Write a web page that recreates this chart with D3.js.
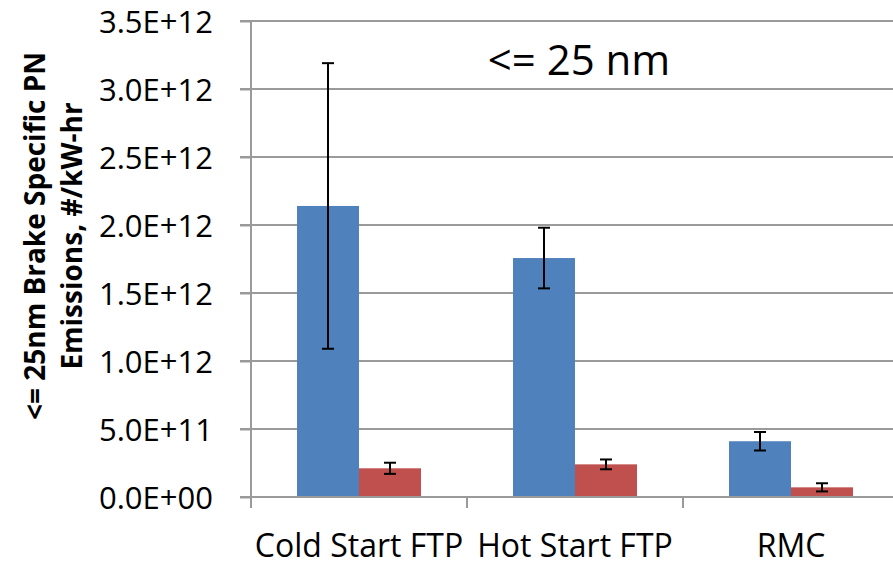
<!DOCTYPE html>
<html>
<head>
<meta charset="utf-8">
<script src="https://cdn.jsdelivr.net/npm/d3@7"></script>
<style>
  body { margin: 0; background: #fff; }
  text { font-family: "Open Sans", sans-serif; fill: #000; }
</style>
</head>
<body>
<div id="chart"></div>
<script>
const categories = ["Cold Start FTP", "Hot Start FTP", "RMC"];
const seriesNames = ["A", "B"];
const seriesA = [2.14e12, 1.757e12, 0.41e12];
const seriesAErr = [1.05e12, 0.223e12, 0.068e12];
const seriesB = [0.211e12, 0.24e12, 0.071e12];
const seriesBErr = [0.041e12, 0.036e12, 0.03e12];
const yTicks = [0, 5e11, 1e12, 1.5e12, 2e12, 2.5e12, 3e12, 3.5e12];
const colors = ["#4F81BD", "#C0504D"];

const width = 893, height = 565;
const plot = { left: 251, right: 899, top: 21, bottom: 497 };

const rows = categories.map((c, i) => ({
    cat: c,
    bars: [
        { s: seriesNames[0], v: seriesA[i], e: seriesAErr[i] },
        { s: seriesNames[1], v: seriesB[i], e: seriesBErr[i] }
    ]
}));

const svg = d3.select("#chart").append("svg")
    .attr("width", width)
    .attr("height", height);

const x0 = d3.scaleBand().domain(categories).range([plot.left, plot.right]).padding(0);
const x1 = d3.scaleBand().domain(seriesNames).range([0, x0.bandwidth()])
    .paddingInner(0).paddingOuter(0.742);
const y = d3.scaleLinear().domain([0, 3.5e12]).range([plot.bottom, plot.top]);

function fmt(v) {
    const s = v.toExponential(1).toUpperCase();
    const [m, e] = s.split("E");
    return m + "E" + e[0] + e.slice(1).padStart(2, "0");
}

// gridlines
svg.append("g")
    .selectAll("line")
    .data(yTicks.filter(d => d > 0))
    .join("line")
    .attr("x1", plot.left - 11)
    .attr("x2", width)
    .attr("y1", d => y(d))
    .attr("y2", d => y(d))
    .attr("stroke", "#9a9a9a")
    .attr("stroke-width", 2);

// y axis
const yAxis = svg.append("g")
    .attr("transform", `translate(${plot.left},0)`)
    .call(d3.axisLeft(y).tickValues(yTicks).tickFormat(fmt).tickSize(11).tickPadding(27));
yAxis.select(".domain").attr("stroke", "#9a9a9a").attr("stroke-width", 2)
    .attr("d", `M0,${plot.top}V${plot.bottom}`);
yAxis.selectAll(".tick line").attr("stroke", "#9a9a9a").attr("stroke-width", 2);
yAxis.selectAll(".tick text")
    .style("font-size", "31px")
    .attr("dy", "0.36em");

// bars
const groups = svg.append("g")
    .selectAll("g")
    .data(rows)
    .join("g")
    .attr("transform", d => `translate(${x0(d.cat)},0)`);

groups.selectAll("rect")
    .data(d => d.bars)
    .join("rect")
    .attr("x", d => x1(d.s))
    .attr("width", x1.bandwidth())
    .attr("y", d => y(d.v))
    .attr("height", d => y(0) - y(d.v))
    .attr("fill", (d, i) => colors[i]);

// error bars
const err = groups.selectAll("g.err")
    .data(d => d.bars)
    .join("g")
    .attr("class", "err")
    .attr("transform", d => `translate(${x1(d.s) + x1.bandwidth() / 2},0)`)
    .attr("stroke", "#000")
    .attr("stroke-width", 2);
err.append("line")
    .attr("y1", d => y(d.v - d.e)).attr("y2", d => y(d.v + d.e));
err.append("line")
    .attr("x1", -6).attr("x2", 6)
    .attr("y1", d => y(d.v + d.e)).attr("y2", d => y(d.v + d.e));
err.append("line")
    .attr("x1", -6).attr("x2", 6)
    .attr("y1", d => y(d.v - d.e)).attr("y2", d => y(d.v - d.e));

// x axis
const xAxis = svg.append("g")
    .attr("transform", `translate(0,${plot.bottom})`)
    .call(d3.axisBottom(x0).tickSize(0).tickPadding(37));
xAxis.select(".domain").attr("stroke", "#9a9a9a").attr("stroke-width", 2)
    .attr("d", `M${plot.left - 11},0H${width}`);
xAxis.selectAll(".tick text").style("font-size", "32px");

// category boundary ticks
svg.append("g")
    .selectAll("line")
    .data(categories)
    .join("line")
    .attr("x1", d => x0(d))
    .attr("x2", d => x0(d))
    .attr("y1", plot.bottom)
    .attr("y2", plot.bottom + 11)
    .attr("stroke", "#9a9a9a")
    .attr("stroke-width", 2);

// title in plot
svg.append("text")
    .attr("x", 579)
    .attr("y", 75)
    .attr("text-anchor", "middle")
    .style("font-size", "42px")
    .text("<= 25 nm");

// y title
const yt = svg.append("text")
    .attr("transform", "translate(0,236) rotate(-90)")
    .attr("text-anchor", "middle")
    .style("font-size", "28px")
    .style("font-weight", "bold");
yt.append("tspan").attr("x", 0).attr("y", 45).text("<= 25nm Brake Specific PN");
yt.append("tspan").attr("x", 0).attr("y", 82).text("Emissions, #/kW-hr");
</script>
</body>
</html>
